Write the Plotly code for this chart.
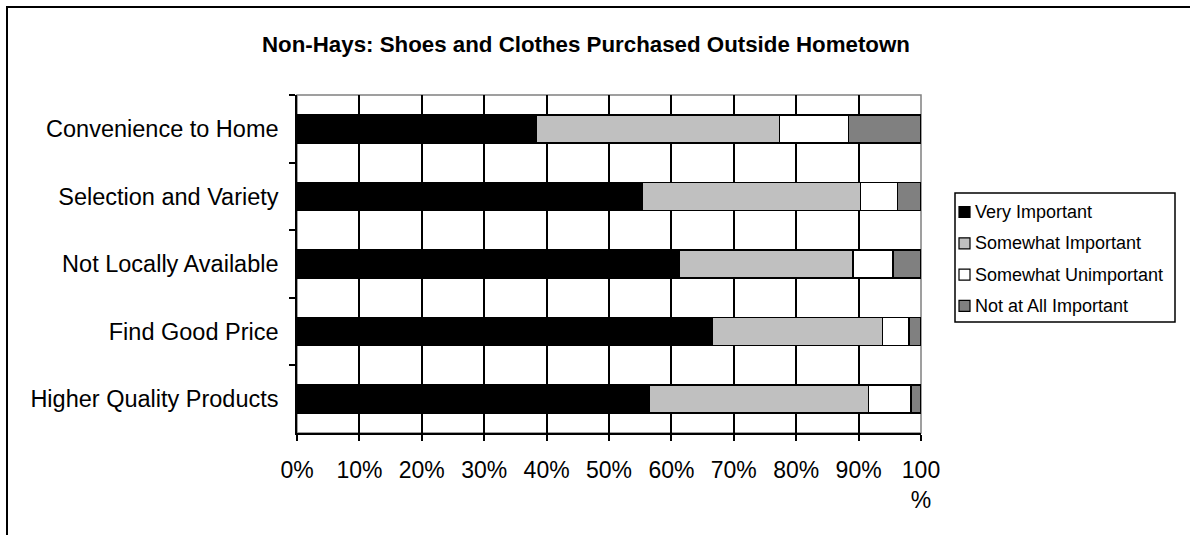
import plotly.graph_objects as go

# Reasons for buying shoes and clothes outside the hometown (share of respondents, %)
reasons = [
    "Convenience to Home",
    "Selection and Variety",
    "Not Locally Available",
    "Find Good Price",
    "Higher Quality Products",
]
very_important = [38.3, 55.3, 61.3, 66.5, 56.5]
somewhat_important = [39.0, 35.0, 27.8, 27.3, 35.1]
somewhat_unimportant = [11.1, 5.9, 6.4, 4.3, 6.8]
not_important = [11.6, 3.8, 4.5, 1.9, 1.6]

series_names = ["Very Important", "Somewhat Important", "Somewhat Unimportant", "Not at All Important"]
series_values = [very_important, somewhat_important, somewhat_unimportant, not_important]
series_colors = ["#000000", "#C0C0C0", "#FFFFFF", "#808080"]

x_ticks = [0, 10, 20, 30, 40, 50, 60, 70, 80, 90, 100]
x_tick_text = ["0%", "10%", "20%", "30%", "40%", "50%", "60%", "70%", "80%", "90%", "100<br>%"]

FONT = "Liberation Sans, Arial, sans-serif"

fig = go.Figure()
for name, vals, color in zip(series_names, series_values, series_colors):
    fig.add_trace(go.Bar(
        y=reasons,
        x=vals,
        name=name,
        orientation="h",
        marker=dict(color=color, line=dict(color="#000000", width=1.5)),
        hoverinfo="x+name",
    ))

W, H = 1190, 535
L, R, T, B = 297, 269, 95, 102
pw, ph = W - L - R, H - T - B


def px_x(p):
    return (p - L) / pw


def px_y(p):
    return (H - B - p) / ph


shapes = [
    # gray frame on the top and right of the plotting area
    dict(type="rect", xref="x domain", yref="y domain", x0=0, x1=1, y0=0, y1=1,
         line=dict(color="#808080", width=1.5), layer="below"),
    # outer chart border
    dict(type="rect", xref="paper", yref="paper",
         x0=px_x(7), x1=px_x(1200), y0=px_y(545), y1=px_y(7),
         line=dict(color="#000000", width=2), fillcolor="rgba(0,0,0,0)"),
    # legend box
    dict(type="rect", xref="paper", yref="paper",
         x0=px_x(955), x1=px_x(1175), y0=px_y(322), y1=px_y(193),
         line=dict(color="#000000", width=1.5), fillcolor="#FFFFFF"),
]

annotations = [
    dict(
        text="<b>Non-Hays: Shoes and Clothes Purchased Outside Hometown</b>",
        xref="paper", yref="paper",
        x=px_x(586), y=px_y(45),
        xanchor="center", yanchor="middle",
        showarrow=False,
        font=dict(family=FONT, size=22.3, color="#000000"),
    )
]

# legend entries: swatch + label
for i, (name, color) in enumerate(zip(series_names, series_colors)):
    cy = 212 + i * 31.3
    shapes.append(dict(
        type="rect", xref="paper", yref="paper",
        x0=px_x(959), x1=px_x(970), y0=px_y(cy + 5.5), y1=px_y(cy - 5.5),
        line=dict(color="#000000", width=1.2), fillcolor=color,
    ))
    annotations.append(dict(
        text=name, xref="paper", yref="paper",
        x=px_x(973), y=px_y(cy),
        xanchor="left", yanchor="middle", showarrow=False,
        font=dict(family=FONT, size=18, color="#000000"),
    ))

fig.update_layout(
    width=W,
    height=H,
    margin=dict(l=L, r=R, t=T, b=B),
    barmode="stack",
    bargap=0.585,
    plot_bgcolor="#FFFFFF",
    paper_bgcolor="#FFFFFF",
    font=dict(family=FONT, color="#000000", size=23.5),
    showlegend=False,
    xaxis=dict(
        range=[0, 100],
        tickvals=x_ticks,
        ticktext=x_tick_text,
        ticks="outside",
        ticklen=6,
        tickwidth=1.5,
        tickcolor="#000000",
        showline=True,
        linecolor="#000000",
        linewidth=1.5,
        showgrid=True,
        gridcolor="#000000",
        gridwidth=1.5,
        zeroline=False,
        tickfont=dict(family=FONT, size=23),
        ticklabelstandoff=10,
        fixedrange=True,
    ),
    yaxis=dict(
        categoryorder="array",
        categoryarray=reasons,
        autorange="reversed",
        tickson="boundaries",
        ticks="outside",
        ticklen=6,
        tickwidth=1.5,
        tickcolor="#000000",
        showline=True,
        linecolor="#000000",
        linewidth=1.5,
        showgrid=False,
        zeroline=False,
        tickfont=dict(family=FONT, size=23.5),
        ticklabelstandoff=12,
        fixedrange=True,
    ),
    shapes=shapes,
    annotations=annotations,
)

fig.write_html("out.html")
